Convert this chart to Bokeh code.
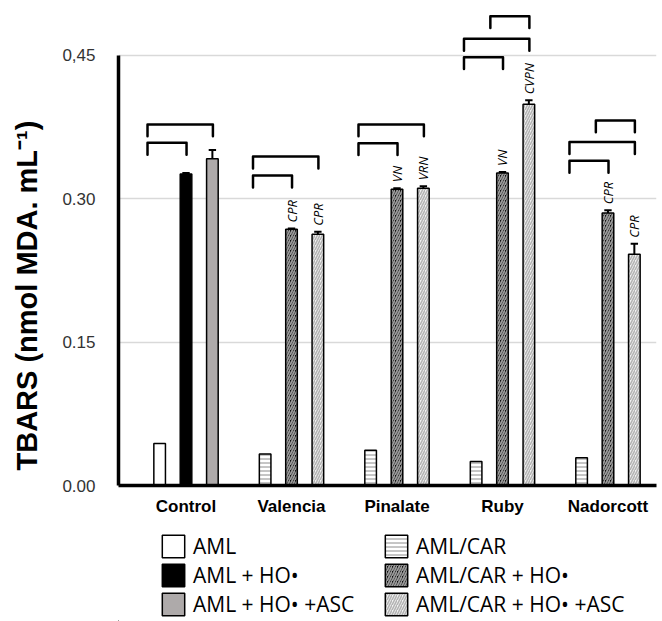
import math
from bokeh.plotting import figure
from bokeh.layouts import column
from bokeh.models import FixedTicker, Legend, LegendItem, Range1d, Title
from bokeh.embed import file_html
from bokeh.resources import INLINE
from bokeh.core.properties import value

# ---------------- data ----------------
groups = ["Control", "Valencia", "Pinalate", "Ruby", "Nadorcott"]
control_series = ["AML", "AML + HO•", "AML + HO• +ASC"]
car_series = ["AML/CAR", "AML/CAR + HO•", "AML/CAR + HO• +ASC"]

control_values = [0.044, 0.326, 0.342]
control_errors = [0.0, 0.001, 0.009]

car_groups = ["Valencia", "Pinalate", "Ruby", "Nadorcott"]
aml_car = [0.033, 0.037, 0.025, 0.029]
aml_car_err = [0.0, 0.0, 0.0, 0.0]
aml_car_ho = [0.268, 0.310, 0.327, 0.285]
aml_car_ho_err = [0.001, 0.001, 0.001, 0.003]
aml_car_ho_asc = [0.263, 0.311, 0.399, 0.242]
aml_car_ho_asc_err = [0.0025, 0.002, 0.004, 0.011]

letters_ho = ["CPR", "VN", "VN", "CPR"]
letters_ho_asc = ["CPR", "VRN", "CVPN", "CPR"]

y_ticks = [0.0, 0.15, 0.30, 0.45]
y_tick_labels = ["0.00", "0.15", "0.30", "0,45"]
y_title = "TBARS (nmol MDA. mL⁻¹)"

# significance brackets: (group, from bar, to bar, height)
brackets = [
    ("Control", 0, 1, 0.3586), ("Control", 0, 2, 0.3778),
    ("Valencia", 0, 1, 0.3244), ("Valencia", 0, 2, 0.3443),
    ("Pinalate", 0, 1, 0.3582), ("Pinalate", 0, 2, 0.3778),
    ("Ruby", 0, 1, 0.4482), ("Ruby", 0, 2, 0.4675), ("Ruby", 1, 2, 0.4911),
    ("Nadorcott", 0, 1, 0.3398), ("Nadorcott", 0, 2, 0.3593), ("Nadorcott", 1, 2, 0.3820),
]

# ---------------- styles ----------------
offsets = [-0.25, 0.0, 0.25]
bar_w = 0.11
gx = {g: i + 1 for i, g in enumerate(groups)}
common = dict(line_color="black", line_width=1.5)
styles = [
    dict(fill_color="white"),
    dict(fill_color="black"),
    dict(fill_color="#aeaaaa"),
    dict(fill_color="white", hatch_pattern="horizontal_line", hatch_color="#8c8c8c",
         hatch_scale=4, hatch_weight=1),
    dict(fill_color="#111111", hatch_pattern="right_diagonal_line", hatch_color="#9a9a9a",
         hatch_scale=5, hatch_weight=1.8),
    dict(fill_color="#f2f2f2", hatch_pattern="right_diagonal_line", hatch_color="#b4b4b4",
         hatch_scale=5, hatch_weight=1.6),
]

# ---------------- main figure ----------------
p = figure(width=660, height=532, output_backend="svg", toolbar_location=None,
           x_range=Range1d(0.36, 5.46), y_range=Range1d(0, 0.497),
           min_border_left=118, min_border_right=4, min_border_top=10,
           min_border_bottom=47)
p.outline_line_color = None
p.background_fill_color = "white"
p.border_fill_color = "white"

p.xgrid.visible = False
p.ygrid.ticker = FixedTicker(ticks=[t for t in y_ticks if t > 0])
p.ygrid.grid_line_color = "#d9d9d9"
p.ygrid.grid_line_width = 1.5

p.yaxis.ticker = FixedTicker(ticks=y_ticks)
p.yaxis.major_label_overrides = {t: l for t, l in zip(y_ticks, y_tick_labels)}
p.yaxis.bounds = (0, 0.45)
p.yaxis.axis_line_width = 3.5
p.yaxis.axis_line_color = "black"
p.yaxis.major_tick_line_color = None
p.yaxis.minor_tick_line_color = None
p.yaxis.major_label_text_font = "Liberation Sans"
p.yaxis.major_label_text_font_size = "17px"
p.yaxis.major_label_text_color = "#333333"
p.yaxis.major_label_standoff = 17
# thin spacer between tick labels and the rotated title
p.yaxis.axis_label = " "
p.yaxis.axis_label_text_font_size = "8px"
p.yaxis.axis_label_standoff = 0

ttl = Title(text=y_title, align="left", offset=15,
            text_font="Liberation Sans", text_font_size="29px",
            text_font_style="bold", text_color="black")
p.add_layout(ttl, "left")

p.xaxis.ticker = FixedTicker(ticks=[gx[g] for g in groups])
p.xaxis.major_label_overrides = {gx[g]: g for g in groups}
p.xaxis.axis_line_width = 3.5
p.xaxis.axis_line_color = "black"
p.xaxis.major_tick_line_color = None
p.xaxis.minor_tick_line_color = None
p.xaxis.major_label_text_font = "Liberation Sans"
p.xaxis.major_label_text_font_size = "17px"
p.xaxis.major_label_text_font_style = "bold"
p.xaxis.major_label_text_color = "black"
p.xaxis.major_label_standoff = 5

# bars
cx = gx["Control"]
for k in range(3):
    p.vbar(x=[cx + offsets[k]], top=[control_values[k]], bottom=0, width=bar_w,
           **common, **styles[k])
car_x = [gx[g] for g in car_groups]
for k, vals in enumerate([aml_car, aml_car_ho, aml_car_ho_asc]):
    p.vbar(x=[x + offsets[k] for x in car_x], top=vals, bottom=0, width=bar_w,
           **common, **styles[3 + k])

# error bars
ex, etop, eerr = [], [], []
for i in range(3):
    ex.append(cx + offsets[i]); etop.append(control_values[i]); eerr.append(control_errors[i])
for vals, errs, k in [(aml_car, aml_car_err, 0), (aml_car_ho, aml_car_ho_err, 1),
                      (aml_car_ho_asc, aml_car_ho_asc_err, 2)]:
    for x, v, e in zip(car_x, vals, errs):
        ex.append(x + offsets[k]); etop.append(v); eerr.append(e)
sel = [i for i in range(len(ex)) if eerr[i] > 0]
p.segment(x0=[ex[i] for i in sel], y0=[etop[i] for i in sel],
          x1=[ex[i] for i in sel], y1=[etop[i] + eerr[i] for i in sel],
          line_color="black", line_width=2)
p.segment(x0=[ex[i] - 0.035 for i in sel], y0=[etop[i] + eerr[i] for i in sel],
          x1=[ex[i] + 0.035 for i in sel], y1=[etop[i] + eerr[i] for i in sel],
          line_color="black", line_width=2)

# letters
tx, ty, tt = [], [], []
for x, v, e, l in zip(car_x, aml_car_ho, aml_car_ho_err, letters_ho):
    tx.append(x + offsets[1]); ty.append(v + e); tt.append(l)
for x, v, e, l in zip(car_x, aml_car_ho_asc, aml_car_ho_asc_err, letters_ho_asc):
    tx.append(x + offsets[2]); ty.append(v + e); tt.append(l)
p.text(x=tx, y=ty, text=tt, angle=math.pi / 2, text_align="left", text_baseline="middle",
       y_offset=-6, text_font=value("Open Sans"), text_font_style="italic",
       text_font_size="13px", text_color="black")

# brackets
tick = 0.0125
bxs, bys = [], []
for g, a, b, h in brackets:
    x0 = gx[g] + offsets[a] - 0.115
    x1 = gx[g] + offsets[b] + 0.005
    bxs.append([x0, x0, x1, x1])
    bys.append([h - tick, h, h, h - tick])
p.multi_line(xs=bxs, ys=bys, line_color="black", line_width=2.5,
             line_join="round", line_cap="round")

# ---------------- legend figure ----------------
q = figure(width=660, height=89, output_backend="svg", toolbar_location=None,
           x_range=Range1d(0, 1), y_range=Range1d(0, 1),
           min_border_left=118, min_border_right=4, min_border_top=0, min_border_bottom=0)
q.axis.visible = False
q.grid.visible = False
q.outline_line_color = None
q.background_fill_color = "white"
q.border_fill_color = "white"

labels = control_series + car_series
items = []
for k in range(6):
    # legend-only renderer: its single bar lies outside the visible range
    r = q.vbar(x=[-5], top=[-5], bottom=-6, width=0.1, **common, **styles[k])
    items.append(LegendItem(label=labels[k], renderers=[r]))

lg = Legend(items=items, location=(41, 3), orientation="vertical", ncols=2)
lg.label_text_font = "Open Sans"
lg.label_text_font_size = "21px"
lg.label_text_color = "black"
lg.glyph_width = 28
lg.glyph_height = 28
lg.label_standoff = 6
lg.label_width = 188
lg.label_height = 28
lg.spacing = 1
lg.padding = 0
lg.margin = 0
lg.background_fill_alpha = 0
lg.border_line_alpha = 0
q.add_layout(lg)

open("out.html", "w").write(file_html(column(p, q), INLINE))
